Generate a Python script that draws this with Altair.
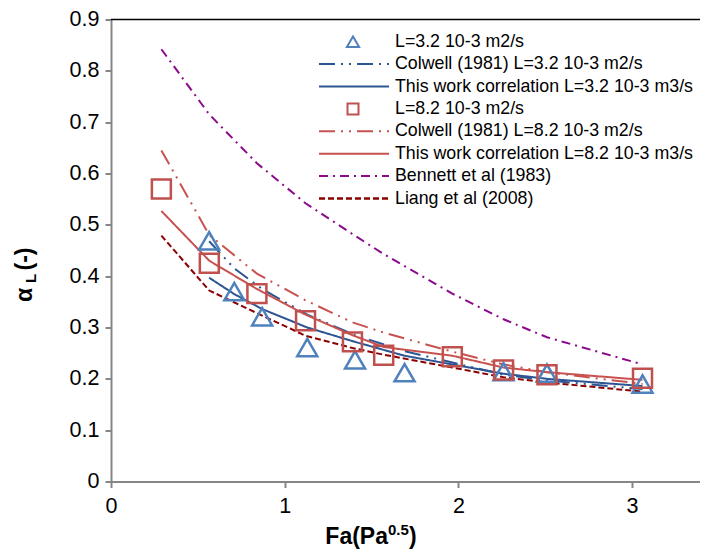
import pandas as pd
import altair as alt

# Fa (Pa^0.5) positions of the two data sets
x_tri = [0.565, 0.71, 0.87, 1.13, 1.405, 1.69, 2.26, 2.51, 3.06]
x_sq = [0.29, 0.566, 0.84, 1.12, 1.39, 1.57, 1.965, 2.26, 2.51, 3.06]

# measured alpha_L
tri_y = [0.469, 0.370, 0.321, 0.261, 0.237, 0.212, 0.214, 0.211, 0.190]
sq_y = [0.570, 0.425, 0.366, 0.313, 0.272, 0.246, 0.243, 0.217, 0.208, 0.201]

# correlations
colwell_32 = [0.468, 0.415, 0.375, 0.325, 0.285, 0.254, 0.208, 0.197, 0.180]
thiswork_32 = [0.397, 0.365, 0.336, 0.300, 0.272, 0.245, 0.210, 0.200, 0.186]
colwell_82 = [0.645, 0.480, 0.405, 0.353, 0.310, 0.290, 0.253, 0.228, 0.213, 0.190]
thiswork_82 = [0.527, 0.430, 0.375, 0.325, 0.285, 0.262, 0.245, 0.222, 0.213, 0.198]
bennett = [0.842, 0.715, 0.620, 0.542, 0.482, 0.443, 0.366, 0.316, 0.281, 0.228]
liang = [0.479, 0.372, 0.328, 0.284, 0.260, 0.247, 0.222, 0.203, 0.193, 0.175]

y_ticks = [0, 0.1, 0.2, 0.3, 0.4, 0.5, 0.6, 0.7, 0.8, 0.9]
x_ticks = [0, 1, 2, 3]

FONT = "Liberation Sans"
W, H = 589, 462
X_MAX = 3.391

BLUE_PT = "#4F81BD"
RED_PT = "#C0504D"
BLUE_LN = "#2C5592"
RED_LN = "#C8524F"
PURPLE = "#8B0A8B"
DARKRED = "#8B0000"

# (label, x, y, color, dash, width)
lines = [
    ("Colwell (1981) L=3.2 10-3  m2/s", x_tri, colwell_32, BLUE_LN, [16, 6, 2, 6, 2, 6], 2),
    ("This work correlation L=3.2 10-3 m3/s", x_tri, thiswork_32, BLUE_LN, [1, 0], 2),
    ("Colwell (1981) L=8.2 10-3  m2/s", x_sq, colwell_82, RED_LN, [16, 6, 2, 6, 2, 6], 2),
    ("This work correlation L=8.2 10-3 m3/s", x_sq, thiswork_82, RED_LN, [1, 0], 2),
    ("Bennett et al (1983)", x_sq, bennett, PURPLE, [9, 5, 2, 5], 2),
    ("Liang et al (2008)", x_sq, liang, DARKRED, [6, 3], 2.5),
]

rows = []
for name, xs, ys, *_ in lines:
    for xv, yv in zip(xs, ys):
        rows.append({"series": name, "x": xv, "y": yv})
line_df = pd.DataFrame(rows)
tri_df = pd.DataFrame({"x": x_tri, "y": tri_y})
sq_df = pd.DataFrame({"x": x_sq, "y": sq_y})

names = [l[0] for l in lines]
xenc = alt.X("x:Q", scale=alt.Scale(domain=[0, X_MAX], nice=False),
             axis=alt.Axis(values=x_ticks, format="d", title=None, labelPadding=8, labelFlush=False))
yenc = alt.Y("y:Q", scale=alt.Scale(domain=[0, 0.9], nice=False),
             axis=alt.Axis(values=y_ticks, format=".1~f", title=None, labelPadding=6))

line_layer = alt.Chart(line_df).mark_line().encode(
    x=xenc, y=yenc,
    color=alt.Color("series:N", scale=alt.Scale(domain=names, range=[l[3] for l in lines]), legend=None),
    strokeDash=alt.StrokeDash("series:N", scale=alt.Scale(domain=names, range=[l[4] for l in lines]), legend=None),
    strokeWidth=alt.StrokeWidth("series:N", scale=alt.Scale(domain=names, range=[l[5] for l in lines]), legend=None),
)

tri_layer = alt.Chart(tri_df).mark_point(shape="triangle-up", size=400, strokeWidth=2.5,
                                         color=BLUE_PT, opacity=1).encode(x="x:Q", y="y:Q")
sq_layer = alt.Chart(sq_df).mark_point(shape="square", size=360, strokeWidth=2.5,
                                       color=RED_PT, opacity=1).encode(x="x:Q", y="y:Q")

one = pd.DataFrame({"k": [0]})
top_border = alt.Chart(one).mark_rule(color="black", strokeWidth=1.5).encode(
    x=alt.value(0), x2=alt.value(W), y=alt.value(0))

# manual legend
leg_labels = ["L=3.2 10-3 m2/s"] + names[:2] + ["L=8.2 10-3 m2/s"] + names[2:]
leg_kind = ["tri", 0, 1, "sq", 2, 3, 4, 5]
legend_layers = []
for i, (lab, kind) in enumerate(zip(leg_labels, leg_kind)):
    ypos = 22.2 + i * 22.4
    if kind == "tri":
        legend_layers.append(alt.Chart(one).mark_point(shape="triangle-up", size=150, strokeWidth=2,
                                                       color=BLUE_PT, opacity=1).encode(
            x=alt.value(242), y=alt.value(ypos)))
    elif kind == "sq":
        legend_layers.append(alt.Chart(one).mark_point(shape="square", size=121, strokeWidth=2,
                                                       color=RED_PT, opacity=1).encode(
            x=alt.value(242), y=alt.value(ypos)))
    else:
        _, _, _, col, dash, sw = lines[kind]
        legend_layers.append(alt.Chart(one).mark_rule(color=col, strokeDash=dash, strokeWidth=sw).encode(
            x=alt.value(208), x2=alt.value(278), y=alt.value(ypos)))
    legend_layers.append(alt.Chart(one).mark_text(text=lab, align="left", baseline="middle",
                                                  font=FONT, fontSize=17.8, color="black").encode(
        x=alt.value(284), y=alt.value(ypos)))

# axis titles with super/subscripts
def txt(s, x, y, size=23, align="left", baseline="alphabetic", angle=0):
    return alt.Chart(one).mark_text(text=s, font=FONT, fontSize=size, fontWeight="bold", align=align,
                                    baseline=baseline, angle=angle, color="black").encode(
        x=alt.value(x), y=alt.value(y))

titles = [
    txt("Fa(Pa", 277, 524.5, align="right"),
    txt("0.5", 277, 515, size=15),
    txt(")", 298, 524.5),
    txt("α", -86.5, 275.5, align="center", baseline="middle", angle=270),
    txt("L", -80.5, 259, size=15, align="center", baseline="middle", angle=270),
    txt("(-)", -86, 239.5, align="center", baseline="middle", angle=270),
]

chart = alt.layer(
    line_layer, tri_layer, sq_layer, top_border, *legend_layers, *titles
).properties(
    width=W, height=H,
    autosize=alt.AutoSizeParams(type="none"),
    padding={"left": 103, "top": 11.5, "right": 0, "bottom": 67},
).configure_axis(
    grid=False,
    domainColor="#868686", domainWidth=2,
    tickColor="#868686", tickWidth=2, tickSize=6,
    labelFont=FONT, labelFontSize=21.5, labelColor="black",
).configure_view(
    stroke=None
)

chart.save("out.html", embed_options={"renderer": "svg", "actions": False})
